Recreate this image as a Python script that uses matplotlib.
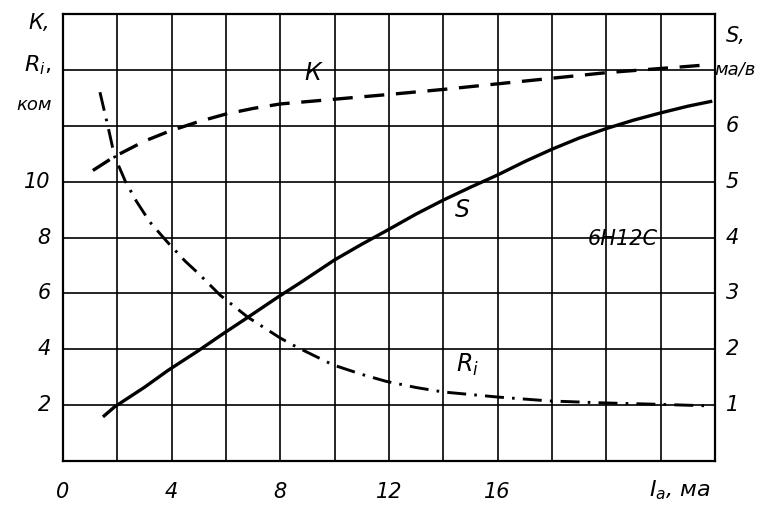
import matplotlib.pyplot as plt

# Данные (лампа 6Н12С)
ia_k = [1.1, 1.9, 3.0, 3.9, 5.0, 6.0, 7.0, 8.0, 10.0, 12.0, 14.0, 16.0, 18.0, 20.0, 22.0, 23.6]
k_vals = [10.4, 10.9, 11.45, 11.8, 12.15, 12.42, 12.62, 12.78, 12.95, 13.12, 13.3, 13.5, 13.7, 13.9, 14.05, 14.17]

ia_ri = [1.36, 1.66, 1.9, 2.3, 2.7, 3.2, 3.83, 4.5, 5.0, 5.78, 6.8, 8.0, 8.6, 9.94, 11.0, 11.9, 13.0, 14.0, 16.0, 17.9, 19.9, 21.9, 23.9]
ri_vals = [13.2, 11.95, 10.9, 10.0, 9.3, 8.55, 7.85, 7.15, 6.7, 5.94, 5.15, 4.4, 4.08, 3.44, 3.1, 2.85, 2.63, 2.47, 2.29, 2.15, 2.08, 2.03, 1.97]

ia_s = [1.47, 1.9, 3.0, 3.86, 5.0, 5.9, 6.8, 7.9, 8.7, 10.0, 11.0, 11.9, 13.0, 14.0, 15.0, 16.0, 17.0, 18.0, 19.0, 20.0, 21.0, 22.0, 23.0, 23.9]
s_vals = [0.79, 0.97, 1.32, 1.62, 1.98, 2.28, 2.57, 2.93, 3.18, 3.6, 3.88, 4.12, 4.42, 4.67, 4.9, 5.12, 5.36, 5.58, 5.78, 5.95, 6.1, 6.23, 6.35, 6.44]

x_ticks = [0, 4, 8, 12, 16]
left_ticks = [2, 4, 6, 8, 10]
right_ticks = [1, 2, 3, 4, 5, 6]

txt = dict(fontstyle='italic', fontsize=15, color='black')

fig = plt.figure(figsize=(7.6, 5.05), dpi=100)
ax = fig.add_axes([0.0829, 0.0871, 0.8579, 0.8852])
ax.set_xlim(0, 24)
ax.set_ylim(0, 16)

# сетка
for x in range(2, 24, 2):
    ax.axvline(x, color='black', lw=1.2, zorder=1)
for y in range(2, 16, 2):
    ax.axhline(y, color='black', lw=1.2, zorder=1)
for sp in ax.spines.values():
    sp.set_linewidth(1.6)

ax.set_xticks([])
ax.set_yticks([])

# кривые K и Ri (левая шкала)
line_k, = ax.plot(ia_k, k_vals, color='black', lw=2.4, zorder=3)
line_k.set_dashes((6, 3.5))
line_ri, = ax.plot(ia_ri, ri_vals, color='black', lw=2.1, zorder=3)
line_ri.set_dashes((6.5, 2.8, 0.9, 2.8))

# кривая S (правая шкала)
ax2 = ax.twinx()
ax2.set_ylim(0, 8)
ax2.set_yticks([])
for sp in ax2.spines.values():
    sp.set_visible(False)
ax2.plot(ia_s, s_vals, color='black', lw=2.4, solid_capstyle='butt', zorder=3)

# подписи шкал
for v in x_ticks:
    ax.text(v, -0.75, str(v), ha='center', va='top', **txt)
for v in left_ticks:
    ax.text(-0.45, v, str(v), ha='right', va='center', **txt)
for v in right_ticks:
    ax2.text(24.4, v, str(v), ha='left', va='center', **txt)

fig.text(0.052, 0.955, 'К,', ha='center', va='center', **txt)
fig.text(0.050, 0.87, r'$R_i$,', ha='center', va='center', fontsize=16)
fig.text(0.045, 0.793, 'ком', ha='center', va='center', fontstyle='italic', fontsize=13)
fig.text(0.968, 0.928, 'S,', ha='center', va='center', **txt)
fig.text(0.967, 0.862, 'ма/в', ha='center', va='center', fontstyle='italic', fontsize=13)
fig.text(0.895, 0.030, r'$I_a$, ма', ha='center', va='center', fontstyle='italic', fontsize=16)

ax.text(9.2, 13.9, 'К', ha='center', va='center', fontstyle='italic', fontsize=17)
ax2.text(14.7, 4.5, 'S', ha='center', va='center', fontstyle='italic', fontsize=17)
ax.text(14.9, 3.45, r'$R_i$', ha='center', va='center', fontsize=17)
ax.text(20.6, 7.95, '6Н12С', ha='center', va='center', fontstyle='italic', fontsize=15)

fig.savefig('out.png', dpi=100)
